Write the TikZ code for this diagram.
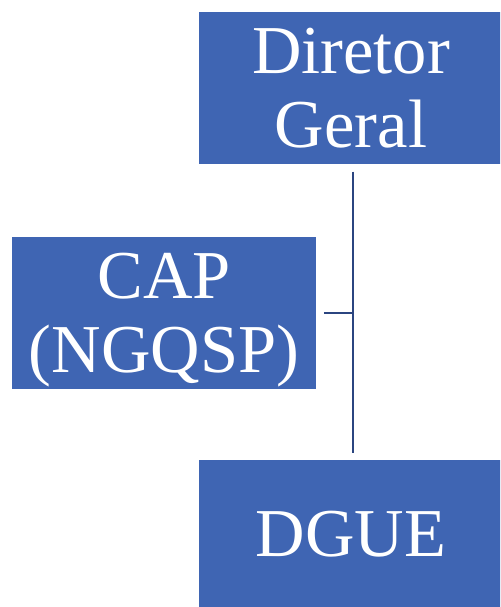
\documentclass[tikz,border=0pt]{standalone}
\usepackage{fontspec}
\setmainfont{Liberation Serif}
\usepackage{tikz}
\definecolor{boxblue}{HTML}{3F65B3}
\definecolor{linenavy}{HTML}{2B4580}
\begin{document}
\begin{tikzpicture}[x=0.02cm,y=-0.02cm]
		\tikzstyle{box}=[rectangle,fill=boxblue,text=white,align=center,minimum width=6.1cm,minimum height=3.05cm,inner sep=0pt,font=\fontsize{39}{42}\selectfont]
		\tikzstyle{link}=[draw=linenavy,line width=1.6pt]
		\useasboundingbox (0,0) rectangle (500,607);
		\clip (0,0) rectangle (500,607);
		\node[box] (dg) at (351,88) {Diretor\\Geral};
		\node[box] (cap) at (164,313) {\rule{0pt}{1.2cm}CAP\\(NGQSP)};
		\node[box] (dgue) at (351,536) {\raisebox{0.08cm}{DGUE}};
		\coordinate (j) at (353,313);
		\draw[link,shorten <=4pt,shorten >=3.5pt] ([xshift=0.04cm]dg.south) -- ([xshift=0.04cm]dgue.north);
		\draw[link,shorten <=4pt] (cap.east) -- (j);
	\end{tikzpicture}
\end{document}
